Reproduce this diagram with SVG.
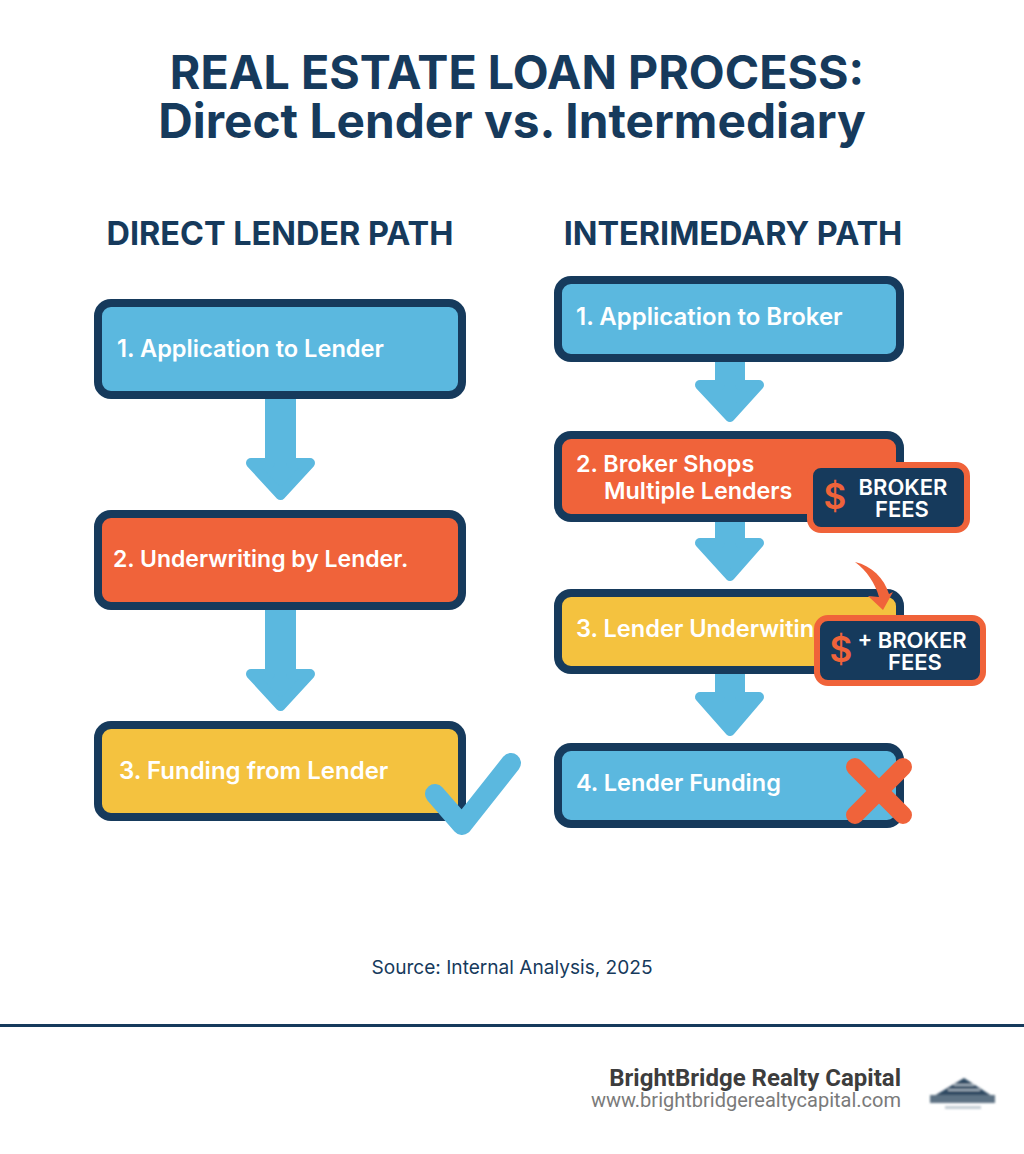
<svg xmlns="http://www.w3.org/2000/svg" width="1024" height="1154" viewBox="0 0 1024 1154">
<style>
text{font-family:Inter,"Liberation Sans",sans-serif}
.title{font-weight:700;fill:#163a5c;text-anchor:middle}
.head{font-size:32.4px;font-weight:700;fill:#163a5c;text-anchor:middle}
.lbl{font-size:23.6px;font-weight:600;fill:#fff}
.box{stroke:#163a5c;stroke-width:8}
.blue{fill:#5bb8df}.red{fill:#f0633a}.yel{fill:#f4c23f}
.arr{fill:#5bb8df;stroke:#5bb8df;stroke-width:10;stroke-linejoin:round}
.badge{fill:#163a5c;stroke:#f0633a;stroke-width:6}
.bt{font-size:22px;font-weight:600;fill:#fff;text-anchor:middle}
.dol{font-size:35px;font-weight:600;fill:#f0633a;text-anchor:middle}
.mark{fill:none;stroke-width:20;stroke-linecap:round;stroke-linejoin:round}
</style>
<defs><filter id="soft" x="-10%" y="-10%" width="120%" height="120%"><feGaussianBlur stdDeviation="0.9"/></filter></defs>
<rect width="1024" height="1154" fill="#fff"/>
<text class="title" x="517" y="89" font-size="46.6">REAL ESTATE LOAN PROCESS:</text>
<text class="title" x="512" y="138" font-size="47.8">Direct Lender vs. Intermediary</text>
<text class="head" x="280" y="245">DIRECT LENDER PATH</text>
<text class="head" x="733" y="245">INTERIMEDARY PATH</text>
<g id="connectors">
<path class="arr" d="M270 395H291V463H310L280.500 495L251 463H270Z"/>
<path class="arr" d="M270 605H291V674H310L280.500 706L251 674H270Z"/>
<path class="arr" d="M720 358H740V385H759L730 417L700 385H720Z"/>
<path class="arr" d="M720 518H740V543H759L730 576L700 543H720Z"/>
<path class="arr" d="M720 670H740V697H759L730 731L700 697H720Z"/>
</g>
<g id="d1"><rect class="box blue" x="98" y="303" width="364" height="92" rx="13"/><text class="lbl" x="117" y="357">1. Application to Lender</text></g>
<g id="d2"><rect class="box red" x="98" y="514" width="364" height="92" rx="13"/><text class="lbl" x="113" y="567" style="font-size:23px">2. Underwriting by Lender.</text></g>
<g id="d3"><rect class="box yel" x="98" y="725" width="364" height="92" rx="13"/><text class="lbl" x="119" y="779" style="font-size:24px">3. Funding from Lender</text></g>
<g id="check"><path class="mark" stroke="#5bb8df" d="M435 794L462 825L511 763"/></g>
<g id="i1"><rect class="box blue" x="558" y="280" width="342" height="78" rx="13"/><text class="lbl" x="576" y="325" style="font-size:24px">1. Application to Broker</text></g>
<g id="i2"><rect class="box red" x="558" y="435" width="342" height="83" rx="13"/><text class="lbl" x="576" y="472" style="font-size:23.300px">2. Broker Shops</text><text class="lbl" x="604" y="499" style="font-size:23.300px">Multiple Lenders</text></g>
<g id="i3"><rect class="box yel" x="558" y="593" width="342" height="77" rx="13"/><text class="lbl" x="576" y="637">3. Lender Underwitin</text></g>
<g id="i4"><rect class="box blue" x="558" y="747" width="342" height="77" rx="13"/><text class="lbl" x="576" y="791" style="font-size:23.500px">4. Lender Funding</text></g>
<g id="cross"><path class="mark" stroke="#f0633a" style="stroke-width:18" d="M855 767L903 815M903 767L855 815"/></g>
<g id="fee1"><rect class="badge" x="810" y="465" width="157" height="65" rx="11"/><text class="dol" x="835" y="509">$</text><text class="bt" x="903" y="495">BROKER</text><text class="bt" x="902" y="517">FEES</text></g>
<g id="curve"><path d="M855 562C872 566 884 578 889 594L893 592L883 610L868 596L879 597C875 583 867 571 855 562Z" fill="#f0633a"/></g>
<g id="fee2"><rect class="badge" x="817" y="618" width="166" height="65" rx="11"/><text class="dol" x="841" y="662">$</text><text class="bt" x="912" y="648">+ BROKER</text><text class="bt" x="915" y="670">FEES</text></g>
<text x="512" y="974" font-size="19.100" fill="#163a5c" text-anchor="middle">Source: Internal Analysis, 2025</text>
<rect x="0" y="1024" width="1024" height="3" fill="#163a5c"/>
<text x="901" y="1086" font-size="24" font-weight="700" fill="#3d3d3d" text-anchor="end" style="font-family:Roboto,sans-serif">BrightBridge Realty Capital</text>
<text x="901" y="1107" font-size="20" fill="#7a7a7a" text-anchor="end" style="font-family:Roboto,sans-serif">www.brightbridgerealtycapital.com</text>
<g id="logo" filter="url(#soft)"><path d="M934 1096L964 1078L992 1096Z" fill="#2f4a62"/><path d="M948 1090H980M954 1085H974" stroke="#c9d2da" stroke-width="1.500"/><rect x="930" y="1095" width="65" height="8" fill="#5d7284"/><rect x="945" y="1106" width="36" height="3" fill="#c3ccd4"/></g>
</svg>
